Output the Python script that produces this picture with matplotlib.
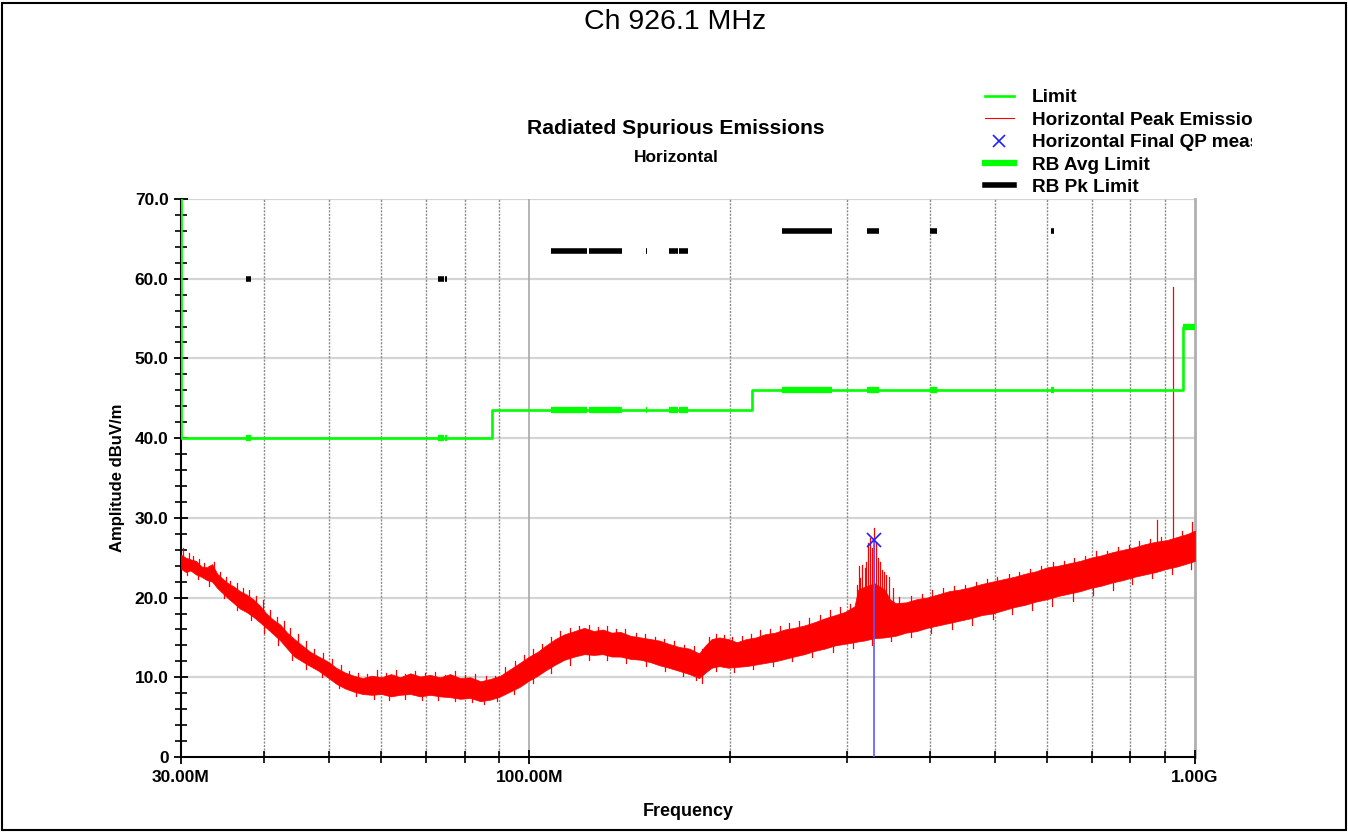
import matplotlib
matplotlib.use('Agg')
import numpy as np
import matplotlib.pyplot as plt
from matplotlib.lines import Line2D
from matplotlib.patches import Rectangle
from matplotlib.transforms import Bbox, TransformedBbox
from matplotlib.ticker import FixedLocator, NullFormatter, FixedFormatter

plt.rcParams['font.family'] = ['Liberation Sans', 'DejaVu Sans']

# ---------------- data (MHz / dBuV/m) ----------------
limit_f = [30, 30, 88, 88, 216, 216, 960, 960, 1000]
limit_v = [70, 40, 40, 43.5, 43.5, 46, 46, 54, 54]

# restricted bands (MHz)
rb_lo = [37.5, 73.0, 74.8, 108.0, 123.0, 149.9, 156.52475, 156.7, 162.0125, 167.72, 240.0, 322.0, 399.9, 608.0, 960.0]
rb_hi = [38.25, 74.6, 75.2, 121.94, 138.0, 150.05, 156.52525, 156.9, 167.17, 173.2, 285.0, 335.4, 410.0, 614.0, 1000.0]

# peak emission trace envelope
trace_f = [30.0, 30.5, 31.0, 31.6, 32.2, 32.8, 33.4, 34.0, 34.6, 35.3, 36.0, 36.8, 37.6, 38.5, 39.4,
           40.3, 41.3, 42.3, 43.3, 44.4, 45.6, 46.9, 48.3, 49.8, 51.3, 52.9, 54.5, 56.2, 58.0, 60.0,
           62.0, 64.0, 66.3, 68.6, 71.0, 73.5, 76.1, 78.8, 81.6, 84.5, 87.5, 90.5, 93.6, 96.8, 100.0,
           103.0, 106.0, 109.5, 113.0, 117.0, 121.0, 125.0, 129.0, 133.0, 137.0, 142.0, 147.0, 152.0,
           157.0, 162.0, 168.0, 174.0, 180.0, 184.0, 188.0, 193.0, 199.0, 205.0, 212.0, 219.0, 226.0,
           234.0, 242.0, 250.0, 259.0, 268.0, 278.0, 288.0, 298.0, 308.0, 312.0, 318.0, 330.0, 342.0,
           348.0, 355.0,
           368.0, 382.0, 396.0, 411.0, 427.0, 443.0, 460.0, 478.0, 496.0, 515.0, 535.0, 556.0, 577.0,
           600.0, 623.0, 647.0, 672.0, 697.0, 724.0, 752.0, 780.0, 810.0, 841.0, 873.0, 906.0, 940.0,
           975.0, 1000.0]
trace_lo = [23.6, 23.2, 23.4, 22.9, 22.6, 22.2, 22.0, 21.2, 20.6, 19.9, 19.3, 18.6, 18.2, 17.6, 16.9,
            16.2, 15.4, 14.6, 13.6, 12.6, 12.0, 11.4, 10.8, 10.0, 9.2, 8.6, 8.2, 7.9, 7.8, 7.9,
            7.6, 7.8, 7.9, 7.6, 7.8, 7.6, 7.5, 7.3, 7.4, 7.0, 7.2, 7.6, 8.2, 8.8, 9.6,
            10.2, 10.9, 11.6, 12.2, 12.6, 12.9, 12.8, 12.9, 12.6, 12.6, 12.3, 12.2, 11.9,
            11.5, 11.2, 10.8, 10.4, 9.9, 10.6, 11.2, 11.4, 11.2, 11.3, 11.4, 11.6, 11.8,
            12.0, 12.3, 12.6, 12.9, 13.3, 13.6, 14.0, 14.2, 14.4, 14.5, 14.6, 14.9, 15.0,
            15.1, 15.2,
            15.6, 15.8, 16.2, 16.5, 16.8, 17.1, 17.4, 17.8, 18.0, 18.4, 18.8, 19.1, 19.5,
            19.8, 20.2, 20.5, 20.8, 21.2, 21.5, 21.9, 22.2, 22.6, 22.9, 23.2, 23.6, 23.9,
            24.3, 24.6]
trace_hi = [25.4, 25.0, 24.8, 24.6, 23.9, 23.8, 24.2, 23.0, 22.4, 21.8, 21.4, 20.8, 20.4, 19.8, 19.0,
            18.0, 17.2, 16.6, 15.6, 14.8, 14.0, 13.2, 12.6, 12.0, 11.2, 10.6, 10.2, 9.9, 10.2, 10.0,
            10.4, 10.0, 10.5, 10.1, 10.3, 10.0, 10.4, 9.9, 10.0, 9.5, 9.8, 10.2, 11.0, 11.8, 12.6,
            13.2, 14.0, 14.8, 15.4, 15.8, 16.2, 15.8, 16.0, 15.6, 15.7, 15.2, 15.0, 14.8,
            14.6, 14.2, 13.8, 13.6, 13.0, 14.0, 14.8, 15.0, 14.8, 14.4, 14.8, 15.0, 15.4,
            15.6, 16.0, 16.2, 16.5, 16.9, 17.4, 17.8, 18.2, 18.9, 21.0, 21.3, 21.8, 21.0,
            19.8, 19.3,
            19.4, 19.8, 20.0, 20.4, 20.8, 21.0, 21.3, 21.7, 22.0, 22.3, 22.6, 23.0, 23.3,
            23.8, 24.0, 24.3, 24.6, 25.0, 25.3, 25.7, 26.0, 26.3, 26.7, 27.0, 27.2, 27.6,
            28.0, 28.4]

# upward spikes of the peak trace (frequency MHz, top value)
spike_f = [30.2, 30.8, 31.3, 31.9, 32.5, 33.1, 33.6, 34.3, 35.0, 35.6, 36.4, 37.2, 38.0, 38.9, 39.9,
           40.8, 41.8, 42.8, 43.8, 44.9, 46.2, 47.6, 49.0, 50.5, 52.1, 53.7, 55.3, 57.1, 59.0, 61.0,
           63.0, 65.1, 67.4, 69.8, 72.3, 74.8, 77.4, 80.2, 83.0, 86.0, 89.0, 92.0, 95.2, 98.4, 101.5,
           104.5, 107.7, 111.2, 115.0, 119.0, 123.0, 127.0, 131.0, 135.0, 139.5, 144.5, 149.5, 154.5,
           159.5, 165.0, 171.0, 177.0, 182.0, 186.0, 190.5, 196.0, 202.0, 208.5, 215.5, 222.5, 230.0,
           238.0, 246.0, 254.5, 263.5, 273.0, 283.0, 293.0, 303.0,
           310.8, 312.5, 314.5, 316.3, 319.0, 321.0, 323.0, 325.4, 327.0, 329.0, 331.7, 334.0, 336.7,
           338.5, 340.6, 343.8, 346.6, 352.0, 359.0,
           375.0, 389.0, 403.0, 419.0, 435.0, 451.0, 469.0, 487.0, 505.0, 525.0, 545.0, 566.0, 588.0,
           611.0, 635.0, 659.0, 684.0, 710.0, 738.0, 766.0, 795.0, 825.0, 857.0, 878.0, 890.0, 926.1,
           957.0, 990.0]
spike_v = [26.2, 25.6, 25.2, 24.9, 24.3, 24.0, 24.5, 23.2, 22.6, 22.1, 21.8, 21.2, 20.9, 20.2, 19.7,
           18.4, 17.6, 17.0, 16.2, 15.4, 14.5, 13.6, 13.0, 12.3, 11.6, 10.8, 10.5, 10.4, 10.9, 10.6,
           10.9, 10.4, 10.8, 10.6, 10.7, 10.3, 10.8, 10.3, 10.4, 10.1, 10.2, 11.3, 12.0, 12.8, 13.6,
           14.2, 15.0, 15.8, 16.2, 16.4, 16.6, 16.3, 16.4, 16.1, 16.0, 15.6, 15.4, 15.1,
           14.8, 14.6, 14.0, 13.9, 13.6, 15.0, 15.4, 15.3, 15.1, 15.2, 15.4, 15.9, 16.1,
           16.4, 16.8, 17.0, 17.5, 17.8, 18.4, 18.8, 19.2,
           21.6, 23.9, 22.5, 24.1, 23.7, 24.5, 26.8, 27.5, 26.2, 28.7, 26.9, 25.0, 24.5,
           23.4, 23.2, 22.8, 22.6, 21.2, 20.1,
           20.2, 20.4, 20.9, 21.2, 21.5, 21.6, 22.0, 22.3, 22.6, 23.0, 23.2, 23.6, 23.9,
           24.5, 24.6, 25.0, 25.2, 25.8, 25.9, 26.4, 26.6, 27.1, 27.4, 29.7, 27.6, 58.9,
           28.4, 29.5]

# downward dips of the peak trace (frequency MHz, bottom value)
dip_f = [30.6, 31.8, 33.0, 34.8, 36.4, 38.2, 40.0, 42.0, 44.0, 46.2, 48.8, 51.8, 55.0, 58.5, 61.5,
         65.0, 69.0, 73.0, 77.5, 82.0, 85.5, 89.5, 95.0, 101.5, 108.0, 115.0, 123.0, 131.0, 140.0,
         150.0, 160.0, 170.0, 178.0, 181.5, 191.0, 203.0, 217.0, 232.0, 248.0, 266.0, 286.0, 306.0,
         327.0, 350.0, 375.0, 402.0, 432.0, 463.0, 497.0, 532.0, 570.0, 610.0, 655.0, 702.0, 752.0,
         805.0, 862.0, 925.0, 985.0]
dip_v = [22.8, 22.3, 21.5, 19.9, 18.4, 17.2, 15.6, 14.0, 12.2, 11.0, 10.0, 8.7, 7.6, 7.3, 7.2,
         7.3, 7.2, 7.1, 7.0, 6.9, 6.6, 7.0, 7.9, 9.3, 10.6, 11.6, 12.2, 12.2, 11.8,
         11.4, 10.8, 10.2, 9.6, 9.3, 10.8, 10.7, 11.0, 11.4, 12.0, 12.5, 13.2, 13.7,
         14.0, 14.5, 15.0, 15.6, 16.0, 16.6, 17.3, 17.9, 18.4, 19.0, 19.6, 20.3, 21.0,
         21.7, 22.4, 23.0, 23.6]

# final QP measurement
qp_f = [329.0]
qp_v = [27.2]

grid_minor_f = [40, 50, 60, 70, 80, 90, 200, 300, 400, 500, 600, 700, 800, 900]
xtick_f = [30, 100, 1000]
xtick_lbl = ['30.00M', '100.00M', '1.00G']
ytick_v = [0, 10, 20, 30, 40, 50, 60, 70]
ytick_lbl = ['0', '10.0', '20.0', '30.0', '40.0', '50.0', '60.0', '70.0']

# ---------------- figure ----------------
W, H = 1348, 832
fig = plt.figure(figsize=(W / 100, H / 100), dpi=100)
ax = fig.add_axes([181 / W, 1 - 757 / H, (1195 - 181) / W, (757 - 199) / H])
ax.set_xscale('log')
ax.set_xlim(30, 1000)
ax.set_ylim(0, 70)

# grid
for v in ytick_v[1:]:
    ax.axhline(v, color='#d4d4d4', lw=1.6, zorder=0)
for f in grid_minor_f:
    ax.axvline(f, color='#8a8a8a', lw=1.0, ls=(0, (1.5, 1)), zorder=0)
ax.axvline(100, color='#a8a8a8', lw=1.2, zorder=0)
ax.axvline(1000, color='#b0b0b0', lw=2.0, zorder=0, clip_on=False)

# peak trace
lf = np.log10(trace_f)
mid = (np.array(trace_lo) + np.array(trace_hi)) / 2.0
ax.fill_between(trace_f, trace_lo, trace_hi, color='#ff0000', lw=0.5, zorder=3)
for f, v in zip(spike_f, spike_v):
    base = np.interp(np.log10(f), lf, mid)
    ax.plot([f, f], [base, v], color='#ff0000', lw=0.9, zorder=3)
for f, v in zip(dip_f, dip_v):
    base = np.interp(np.log10(f), lf, mid)
    ax.plot([f, f], [v, base], color='#ff0000', lw=0.9, zorder=3)

# QP
ax.plot([qp_f[0], qp_f[0]], [0, qp_v[0]], color='#5a5aff', lw=1.2, zorder=4)
ax.plot(qp_f, qp_v, 'x', color='#2020ff', ms=10, mew=1.2, zorder=5)

# limit
ax.plot(limit_f, limit_v, color='#00ff00', lw=1.9, zorder=4)

# restricted band limits
def limit_at(f):
    val = limit_v[-1]
    for i in range(0, len(limit_f) - 1):
        if limit_f[i] <= f < limit_f[i + 1] and limit_f[i] != limit_f[i + 1]:
            val = limit_v[i]
    return val

for lo, hi in zip(rb_lo, rb_hi):
    hi_c = min(hi, 1000)
    lv = limit_at(lo)
    ax.plot([lo, hi_c], [lv, lv], color='#00ff00', lw=4.5, solid_capstyle='butt', zorder=4)
    ax.plot([lo, hi_c], [lv + 20, lv + 20], color='#000000', lw=4.0, solid_capstyle='butt', zorder=4)

# axes styling
for s in ['top', 'right']:
    ax.spines[s].set_visible(False)
for s in ['left', 'bottom']:
    ax.spines[s].set_color('#000000')
    ax.spines[s].set_linewidth(1.5)

ax.xaxis.set_major_locator(FixedLocator(xtick_f))
ax.xaxis.set_major_formatter(FixedFormatter(xtick_lbl))
ax.xaxis.set_minor_locator(FixedLocator(grid_minor_f))
ax.xaxis.set_minor_formatter(NullFormatter())
ax.yaxis.set_major_locator(FixedLocator(ytick_v))
ax.yaxis.set_major_formatter(FixedFormatter(ytick_lbl))
ax.yaxis.set_minor_locator(FixedLocator([v for v in range(0, 71, 2) if v % 10 != 0]))

ax.tick_params(axis='both', which='major', direction='inout', length=10, width=1.3, labelsize=12.5, pad=4)
ax.tick_params(axis='both', which='minor', direction='inout', length=8, width=1.2)
for lbl in ax.get_xticklabels() + ax.get_yticklabels():
    lbl.set_fontweight('bold')

ax.set_xlabel('Frequency', fontsize=13, fontweight='bold', labelpad=13)
ax.set_ylabel('Amplitude dBuV/m', fontsize=12, fontweight='bold', labelpad=7)

# titles
fig.text(675 / W, 1 - 22 / H, 'Ch 926.1 MHz', ha='center', va='center', fontsize=20.5)
fig.text(676 / W, 1 - 128 / H, 'Radiated Spurious Emissions', ha='center', va='center',
         fontsize=15.2, fontweight='bold')
fig.text(676 / W, 1 - 157 / H, 'Horizontal', ha='center', va='center', fontsize=12.5, fontweight='bold')

# legend
handles = [Line2D([], [], color='#00ff00', lw=1.9),
           Line2D([], [], color='#ff0000', lw=0.8),
           Line2D([], [], color='#2020ff', lw=0, marker='x', ms=9, mew=1.2),
           Line2D([], [], color='#00ff00', lw=4.5),
           Line2D([], [], color='#000000', lw=4.0)]
labels = ['Limit', 'Horizontal Peak Emissions', 'Horizontal Final QP measurements',
          'RB Avg Limit', 'RB Pk Limit']
leg = fig.legend(handles, labels, loc='upper left', bbox_to_anchor=(985 / W, 1 - 89 / H),
                 frameon=False, borderpad=0, borderaxespad=0, handlelength=1.5,
                 handletextpad=0.95, labelspacing=0.27,
                 prop={'weight': 'bold', 'size': 13.7})
clipbox = TransformedBbox(Bbox([[0, 0], [1252 / W, 1]]), fig.transFigure)
for t in leg.get_texts():
    t.set_clip_box(clipbox)
    t.set_clip_on(True)

# figure border
fig.patches.append(Rectangle((2 / W, 2 / H), 1 - 4 / W, 1 - 5 / H, transform=fig.transFigure,
                             fill=False, edgecolor='black', lw=1.5))

fig.savefig('out.png', dpi=100)
